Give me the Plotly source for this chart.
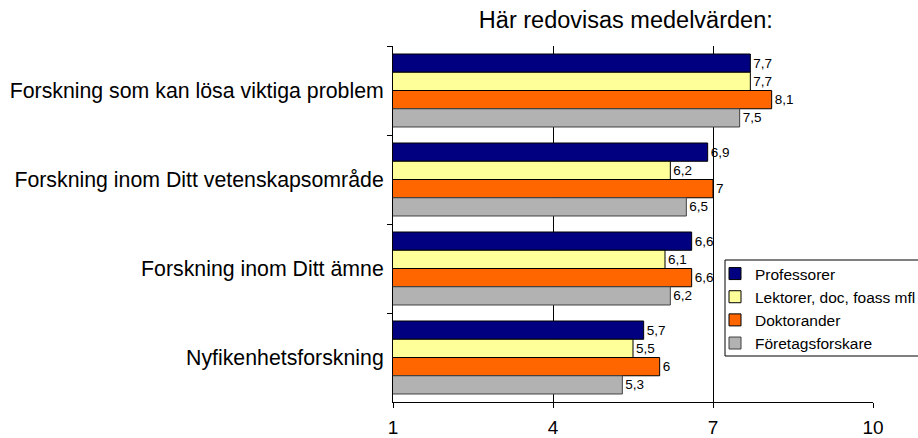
import plotly.graph_objects as go

categories = [
    "Forskning som kan lösa viktiga problem",
    "Forskning inom Ditt vetenskapsområde",
    "Forskning inom Ditt ämne",
    "Nyfikenhetsforskning",
]
series_names = ["Professorer", "Lektorer, doc, foass mfl", "Doktorander", "Företagsforskare"]
professorer = [7.7, 6.9, 6.6, 5.7]
lektorer = [7.7, 6.2, 6.1, 5.5]
doktorander = [8.1, 7.0, 6.6, 6.0]
foretagsforskare = [7.5, 6.5, 6.2, 5.3]
x_ticks = [1, 4, 7, 10]
title_text = "Här redovisas medelvärden:"

series_values = [professorer, lektorer, doktorander, foretagsforskare]
colors = ["#000080", "#FFFF99", "#FF6600", "#B2B2B2"]
line_colors = ["#000000", "#000000", "#000000", "#404040"]

FONT = "Liberation Sans, Arial, sans-serif"

# plot area in pixels: left 393, right 873, top 46, bottom 402
PL, PR, PT, PB = 393, 873, 46, 402
PW, PH = PR - PL, PB - PT

fig = go.Figure()
for name, vals, col, lc in zip(series_names, series_values, colors, line_colors):
    fig.add_trace(go.Bar(
        name=name,
        y=categories,
        x=vals,
        orientation="h",
        marker=dict(color=col, line=dict(color=lc, width=1)),
        text=[f"{v:g}".replace(".", ",") for v in vals],
        textposition="outside",
        textfont=dict(family=FONT, size=13.5, color="#000000"),
        cliponaxis=False,
    ))

# legend frame (white box with black border, extends past right edge)
fig.add_shape(
    type="rect", xref="paper", yref="paper",
    x0=(725 - PL) / PW, x1=1.3,
    y0=(PB - 356) / PH, y1=(PB - 260) / PH,
    fillcolor="white", line=dict(color="#000000", width=1),
    layer="above",
)

fig.update_layout(
    width=918,
    height=438,
    paper_bgcolor="white",
    plot_bgcolor="white",
    barmode="group",
    bargap=0.18,
    bargroupgap=0,
    margin=dict(l=PL, r=918 - PR, t=PT, b=438 - PB, autoexpand=False),
    font=dict(family=FONT, color="#000000"),
    title=dict(
        text=title_text,
        font=dict(family=FONT, size=23.5, color="#000000"),
        x=0.485, xref="paper", xanchor="center",
        y=1 - 20 / 438, yref="container", yanchor="middle",
    ),
    xaxis=dict(
        range=[1, 10],
        tickvals=x_ticks,
        ticktext=[str(t) for t in x_ticks],
        showgrid=True,
        gridcolor="#000000",
        gridwidth=1,
        zeroline=False,
        showline=True,
        linecolor="#000000",
        linewidth=1,
        ticks="outside",
        ticklen=5,
        tickcolor="#000000",
        tickfont=dict(family=FONT, size=19, color="#000000"),
        ticklabelstandoff=3,
    ),
    yaxis=dict(
        type="category",
        autorange="reversed",
        showgrid=False,
        zeroline=False,
        showline=True,
        linecolor="#000000",
        linewidth=1,
        ticks="outside",
        tickson="boundaries",
        ticklen=5,
        tickcolor="#000000",
        tickfont=dict(family=FONT, size=21.3, color="#000000"),
        ticklabelstandoff=4,
    ),
    legend=dict(
        x=(715 - PL) / PW,
        y=(PB - 257) / PH,
        xanchor="left",
        yanchor="top",
        bgcolor="rgba(0,0,0,0)",
        borderwidth=0,
        font=dict(family=FONT, size=15.5, color="#000000"),
        traceorder="normal",
    ),
)

fig.write_html(
    "out.html",
    config={"displayModeBar": False},
    post_script="document.body.style.margin='0';document.body.style.overflow='hidden';",
)
